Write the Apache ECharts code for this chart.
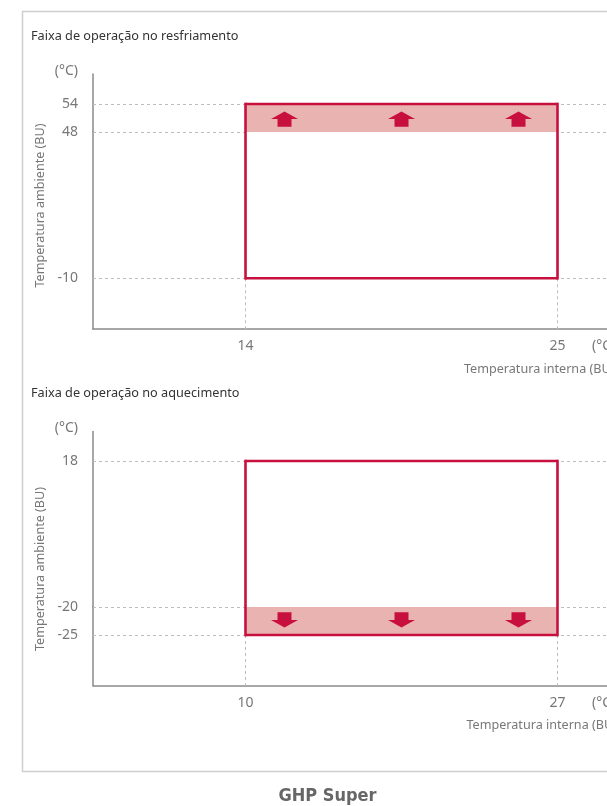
<!DOCTYPE html>
<html><head><meta charset="utf-8">
<script src="https://cdn.jsdelivr.net/npm/echarts@6/dist/echarts.min.js"></script>
<style>html,body{margin:0;padding:0;background:#fff}#c{width:607px;height:806px}</style>
</head><body><div id="c"></div>
<script>
// ---- data ----
const coolTitle = 'Faixa de operação no resfriamento';
const coolIndoor = [14, 25];            // indoor temperature range (°C, BU)
const coolAmbient = [-10, 48, 54];      // ambient: min, limited band start, max
const heatTitle = 'Faixa de operação no aquecimento';
const heatIndoor = [10, 27];
const heatAmbient = [-25, -20, 18];     // ambient: min, limited band end, max
const yName = 'Temperatura ambiente (BU)';
const xName = 'Temperatura interna (BU)';
const unitLabel = '(°C)';
const footer = 'GHP Super';

// ---- styles ----
const RED = '#c8103f', BAND = '#e9b3b1', AXIS = '#8a8a8a', LBL = '#777', DASH = '#bdbdbd';
const FONT = 'Noto Sans';
const arrowFractions = [0.125, 0.5, 0.875];

function makeRenderer(cfg) {
  return function (params, api) {
    const cs = params.coordSys;
    const x0 = api.value(0), x1 = api.value(1), y0 = api.value(2), y1 = api.value(3);
    const pA = api.coord([x0, y0]), pB = api.coord([x1, y1]);
    const left = pA[0], right = pB[0], bottom = pA[1], top = pB[1];
    const ch = [];
    const dashStyle = { stroke: DASH, lineWidth: 1, lineDash: [3, 3] };
    (cfg.dashY || []).forEach(v => {
      const py = Math.round(api.coord([x0, v])[1]) + 0.5;
      ch.push({ type: 'line', shape: { x1: cs.x, y1: py, x2: cs.x + cs.width, y2: py }, style: dashStyle });
    });
    if (cfg.dashDown) {
      [left, right].forEach(px => {
        ch.push({ type: 'line', shape: { x1: px, y1: bottom, x2: px, y2: cs.y + cs.height }, style: dashStyle });
      });
    }
    ch.push({ type: 'rect', shape: { x: left, y: top, width: right - left, height: bottom - top },
      style: { fill: cfg.fill, stroke: null } });
    const bs = { stroke: RED, lineWidth: 2.6 };
    ch.push({ type: 'line', shape: { x1: left, y1: top - (cfg.drawTop ? 1.3 : 0), x2: left, y2: bottom + (cfg.drawBottom ? 1.3 : 0) }, style: bs });
    ch.push({ type: 'line', shape: { x1: right, y1: top - (cfg.drawTop ? 1.3 : 0), x2: right, y2: bottom + (cfg.drawBottom ? 1.3 : 0) }, style: bs });
    if (cfg.drawTop) ch.push({ type: 'line', shape: { x1: left, y1: top, x2: right, y2: top }, style: bs });
    if (cfg.drawBottom) ch.push({ type: 'line', shape: { x1: left, y1: bottom, x2: right, y2: bottom }, style: bs });
    if (cfg.arrows) {
      const dir = cfg.arrows === 'up' ? -1 : 1;
      const cy = (top + bottom) / 2 + (dir < 0 ? 1.2 : -1.2);
      arrowFractions.forEach(f => {
        const cx = left + (right - left) * f;
        const tip = cy + dir * 7.8, base = cy + dir * 0.3, tail = cy - dir * 7.5;
        ch.push({ type: 'polygon', shape: { points: [
          [cx, tip], [cx + 13.5, base], [cx + 7, base], [cx + 7, tail], [cx - 7, tail], [cx - 7, base], [cx - 13.5, base]
        ] }, style: { fill: RED } });
      });
    }
    return { type: 'group', children: ch };
  };
}

function yAx(grid, min, max, labels) {
  return {
    gridIndex: grid, type: 'value', min: min, max: max,
    axisLine: { show: true, onZero: false, lineStyle: { color: AXIS, width: 1.5 } },
    axisTick: { show: false }, splitLine: { show: false },
    axisLabel: { customValues: labels, color: LBL, fontSize: 14, fontFamily: FONT, margin: 15 }
  };
}
function xAx(grid, min, max, labels) {
  const shown = !!labels;
  return {
    gridIndex: grid, type: 'value', min: min, max: max,
    axisLine: { show: shown, onZero: false, lineStyle: { color: AXIS, width: 1.5 } },
    axisTick: { show: false }, splitLine: { show: false },
    axisLabel: shown ? { customValues: labels, color: LBL, fontSize: 14, fontFamily: FONT, margin: 10 } : { show: false }
  };
}

const grids = [
  { left: 93, top: 74, width: 560, height: 58 },
  { left: 93, top: 132, width: 560, height: 197 },
  { left: 93, top: 431.5, width: 560, height: 175.5 },
  { left: 93, top: 607, width: 560, height: 78.7 }
].map(g => Object.assign(g, { outerBoundsMode: 'none', containLabel: false }));

const option = {
  animation: false,
  backgroundColor: '#fff',
  grid: grids,
  xAxis: [
    xAx(0, 8.623, 28.367, null),
    xAx(1, 8.623, 28.367, coolIndoor),
    xAx(2, 1.691, 32.204, null),
    xAx(3, 1.691, 32.204, heatIndoor)
  ],
  yAxis: [
    yAx(0, coolAmbient[1], 60.43, [coolAmbient[2]]),
    yAx(1, -30.1, coolAmbient[1], [coolAmbient[1], coolAmbient[0]]),
    yAx(2, heatAmbient[1], 25.68, [heatAmbient[2], heatAmbient[1]]),
    yAx(3, -34.05, heatAmbient[1], [heatAmbient[0]])
  ],
  series: [
    { type: 'custom', xAxisIndex: 0, yAxisIndex: 0, clip: false,
      data: [[coolIndoor[0], coolIndoor[1], coolAmbient[1], coolAmbient[2]]],
      renderItem: makeRenderer({ fill: BAND, drawTop: true, arrows: 'up', dashY: [coolAmbient[2]] }) },
    { type: 'custom', xAxisIndex: 1, yAxisIndex: 1, clip: false,
      data: [[coolIndoor[0], coolIndoor[1], coolAmbient[0], coolAmbient[1]]],
      renderItem: makeRenderer({ fill: '#fff', drawBottom: true, dashDown: true, dashY: [coolAmbient[1], coolAmbient[0]] }) },
    { type: 'custom', xAxisIndex: 2, yAxisIndex: 2, clip: false,
      data: [[heatIndoor[0], heatIndoor[1], heatAmbient[1], heatAmbient[2]]],
      renderItem: makeRenderer({ fill: '#fff', drawTop: true, dashY: [heatAmbient[2], heatAmbient[1]] }) },
    { type: 'custom', xAxisIndex: 3, yAxisIndex: 3, clip: false,
      data: [[heatIndoor[0], heatIndoor[1], heatAmbient[0], heatAmbient[1]]],
      renderItem: makeRenderer({ fill: BAND, drawBottom: true, arrows: 'down', dashDown: true, dashY: [heatAmbient[0]] }) }
  ],
  graphic: [
    { type: 'rect', z: -10, shape: { x: 22.5, y: 11.5, width: 700, height: 760 }, style: { fill: null, stroke: '#cfcfcf', lineWidth: 1.5 } },
    { type: 'text', x: 31, y: 36, style: { text: coolTitle, font: '12.7px "Noto Sans"', fill: '#333', verticalAlign: 'middle' } },
    { type: 'text', x: 78, y: 71, style: { text: unitLabel, font: '14px "Noto Sans"', fill: LBL, align: 'right', verticalAlign: 'middle' } },
    { type: 'text', x: 40, y: 205.5, rotation: Math.PI / 2, style: { text: yName, font: '12.6px "Noto Sans"', fill: LBL, align: 'center', verticalAlign: 'middle' } },
    { type: 'text', x: 592, y: 346, style: { text: unitLabel, font: '14px "Noto Sans"', fill: LBL, verticalAlign: 'middle' } },
    { type: 'text', x: 464, y: 369, style: { text: xName, font: '12.6px "Noto Sans"', fill: LBL, verticalAlign: 'middle' } },
    { type: 'text', x: 31, y: 393, style: { text: heatTitle, font: '12.7px "Noto Sans"', fill: '#333', verticalAlign: 'middle' } },
    { type: 'text', x: 78, y: 428, style: { text: unitLabel, font: '14px "Noto Sans"', fill: LBL, align: 'right', verticalAlign: 'middle' } },
    { type: 'text', x: 40, y: 569, rotation: Math.PI / 2, style: { text: yName, font: '12.6px "Noto Sans"', fill: LBL, align: 'center', verticalAlign: 'middle' } },
    { type: 'text', x: 592, y: 703, style: { text: unitLabel, font: '14px "Noto Sans"', fill: LBL, verticalAlign: 'middle' } },
    { type: 'text', x: 466.5, y: 725, style: { text: xName, font: '12.6px "Noto Sans"', fill: LBL, verticalAlign: 'middle' } },
    { type: 'text', x: 327.5, y: 796, style: { text: footer, font: 'bold 18px "DejaVu Sans Condensed", "DejaVu Sans"', fill: '#666', align: 'center', verticalAlign: 'middle' } }
  ]
};
const chart = echarts.init(document.getElementById('c'), null, { renderer: 'canvas' });
chart.setOption(option);
</script></body></html>
